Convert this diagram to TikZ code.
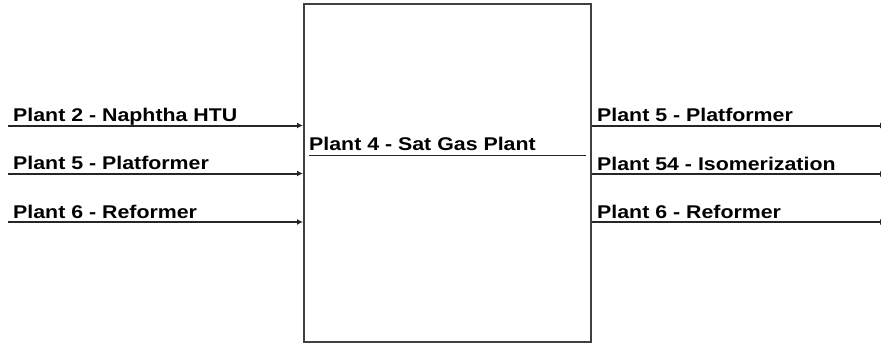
\documentclass[tikz,border=0pt]{standalone}
\usepackage{fontspec}
\newfontfamily\lblfont{Liberation Sans}[FakeStretch=1.16]
\usetikzlibrary{arrows.meta}
\begin{document}
\begin{tikzpicture}[x=1pt,y=-1pt,
  lbl/.style={anchor=base west,inner sep=0pt,font=\lblfont\bfseries\fontsize{18.4}{21}\selectfont,text=black},
  flow/.style={line width=2pt,draw=black!85},
  inarrow/.style={flow,-{Latex[length=6pt,width=6pt]}},
  unit/.style={draw=black!75,line width=2pt,fill=white,rectangle,inner sep=0pt}]
\useasboundingbox (0,0) rectangle (881,343);
\clip (0,0) rectangle (881,343);
\node[unit,minimum width=287pt,minimum height=338pt] (box) at (447.5,173) {};
% inputs
\coordinate (i1) at (8,125.5);
\coordinate (i2) at (8,173.5);
\coordinate (i3) at (8,222);
\draw[inarrow] (i1) -- (box.west |- i1);
\draw[inarrow] (i2) -- (box.west |- i2);
\draw[inarrow] (i3) -- (box.west |- i3);
\node[lbl] (t1) at (13,121) {Plant 2 - Naphtha HTU};
\node[lbl] (t2) at (13,169) {Plant 5 - Platformer};
\node[lbl] (t3) at (13,218) {Plant 6 - Reformer};
% outputs
\coordinate (o1) at (886,125.5);
\coordinate (o2) at (886,174);
\coordinate (o3) at (886,222);
\draw[inarrow] (box.east |- o1) -- (o1);
\draw[inarrow] (box.east |- o2) -- (o2);
\draw[inarrow] (box.east |- o3) -- (o3);
\node[lbl] (u1) at (597,121) {Plant 5 - Platformer};
\node[lbl] (u2) at (597,170) {Plant 54 - Isomerization};
\node[lbl] (u3) at (597,218) {Plant 6 - Reformer};
% centre label
\node[lbl] (c) at (309,150) {Plant 4 - Sat Gas Plant};
\coordinate (cl) at (309,155.5);
\coordinate (cr) at (586,155.5);
\draw[line width=1.6pt,draw=black!85] (cl) -- (cr);
\end{tikzpicture}
\end{document}
